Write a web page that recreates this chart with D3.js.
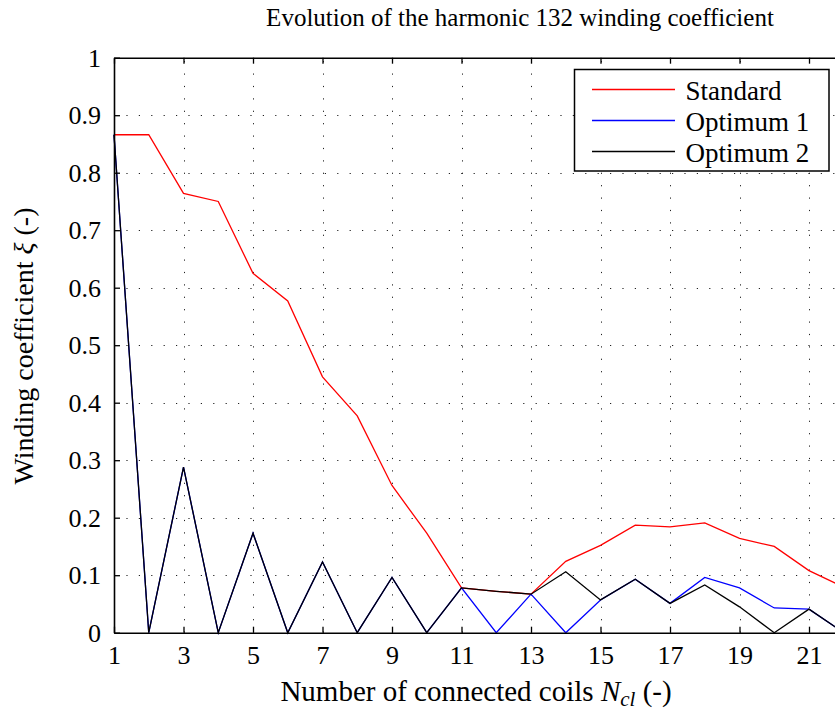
<!DOCTYPE html>
<html>
<head>
<meta charset="utf-8">
<script src="https://cdn.jsdelivr.net/npm/d3@7"></script>
<style>
  html, body { margin: 0; padding: 0; background: #fff; }
  svg { display: block; }
  text { font-family: "Liberation Serif", "DejaVu Serif", serif; fill: #000; }
</style>
</head>
<body>
<svg id="chart" width="835" height="711"></svg>
<script>
// Number of connected coils
const coils = [1, 2, 3, 4, 5, 6, 7, 8, 9, 10, 11, 12, 13, 14, 15, 16, 17, 18, 19, 20, 21, 22];

// Harmonic 132 winding coefficient for each configuration
const standard = [0.866, 0.866, 0.764, 0.750, 0.625, 0.577, 0.445, 0.377, 0.256, 0.173, 0.078, 0.072,
                  0.067, 0.124, 0.152, 0.187, 0.184, 0.191, 0.164, 0.150, 0.108, 0.079];
const optimum1 = [0.866, 0, 0.288, 0, 0.173, 0, 0.123, 0, 0.096, 0, 0.078, 0,
                  0.067, 0, 0.057, 0.093, 0.051, 0.096, 0.078, 0.043, 0.041, 0];
const optimum2 = [0.866, 0, 0.288, 0, 0.173, 0, 0.123, 0, 0.096, 0, 0.078, 0.072,
                  0.067, 0.106, 0.057, 0.093, 0.051, 0.083, 0.045, 0, 0.041, 0];

const xTicks = [1, 3, 5, 7, 9, 11, 13, 15, 17, 19, 21];
const yTicks = [0, 0.1, 0.2, 0.3, 0.4, 0.5, 0.6, 0.7, 0.8, 0.9, 1];

const seriesList = [
  { name: "Standard",  values: standard, color: "#ff0000" },
  { name: "Optimum 1", values: optimum1, color: "#0000ff" },
  { name: "Optimum 2", values: optimum2, color: "#000000" }
];

const svg = d3.select("#chart");
const plot = { left: 114, top: 57.7, right: 843.75, bottom: 632.7 };

const x = d3.scaleLinear().domain([1, 22]).range([plot.left, plot.right]);
const y = d3.scaleLinear().domain([0, 1]).range([plot.bottom, plot.top]);

// dotted grid
const grid = svg.append("g").attr("stroke", "#222").attr("stroke-width", 1)
  .attr("stroke-dasharray", "1.2,11.2");
grid.selectAll("line.gx").data(xTicks.filter(d => d > 1)).join("line")
  .attr("x1", d => Math.round(x(d)) + 0.5).attr("x2", d => Math.round(x(d)) + 0.5)
  .attr("y1", plot.bottom).attr("y2", plot.top);
grid.selectAll("line.gy").data(yTicks.filter(d => d > 0 && d < 1)).join("line")
  .attr("y1", d => Math.round(y(d)) + 0.5).attr("y2", d => Math.round(y(d)) + 0.5)
  .attr("x1", plot.left).attr("x2", plot.right);

// curves
const line = d3.line().x((d, i) => x(coils[i])).y(d => y(d));
svg.append("g").selectAll("path").data(seriesList).join("path")
  .attr("d", s => line(s.values))
  .attr("fill", "none")
  .attr("stroke", s => s.color)
  .attr("stroke-width", 1.3)
  .attr("stroke-linejoin", "miter");

// axes with inward ticks
const tickLen = 6;
const bottomAxis = d3.axisBottom(x).tickValues(xTicks).tickSizeInner(-tickLen).tickSizeOuter(0).tickPadding(13);
const topAxis = d3.axisTop(x).tickValues(xTicks).tickSizeInner(-tickLen).tickSizeOuter(0).tickFormat("");
const leftAxis = d3.axisLeft(y).tickValues(yTicks).tickSizeInner(-tickLen).tickSizeOuter(0).tickPadding(13)
  .tickFormat(d => d === 0 ? "0" : d === 1 ? "1" : d3.format(".1f")(d));

function style(g) {
  g.select(".domain").attr("stroke", "#000").attr("stroke-width", 1.6);
  g.selectAll(".tick line").attr("stroke", "#000").attr("stroke-width", 1.3);
  g.selectAll(".tick text").attr("font-family", "Liberation Serif, serif").attr("font-size", 26).attr("fill", "#000");
}
svg.append("g").attr("transform", `translate(0,${plot.bottom})`).call(bottomAxis).call(style);
svg.append("g").attr("transform", `translate(0,${plot.top})`).call(topAxis).call(style);
svg.append("g").attr("transform", `translate(${plot.left},0)`).call(leftAxis).call(style);

// title
svg.append("text").attr("x", 520).attr("y", 26).attr("text-anchor", "middle")
  .attr("font-size", 25).text("Evolution of the harmonic 132 winding coefficient");

// x label
const xl = svg.append("text").attr("x", 476).attr("y", 701).attr("text-anchor", "middle").attr("font-size", 29);
xl.append("tspan").text("Number of connected coils ");
xl.append("tspan").attr("font-style", "italic").text("N");
xl.append("tspan").attr("font-style", "italic").attr("font-size", 21).attr("dy", 5).text("cl");
xl.append("tspan").attr("dy", -5).text(" (-)");

// y label
const yl = svg.append("text").attr("transform", "translate(33,346) rotate(-90)")
  .attr("text-anchor", "middle").attr("font-size", 28);
yl.append("tspan").text("Winding coefficient ");
yl.append("tspan").attr("font-style", "italic").text("ξ");
yl.append("tspan").text(" (-)");

// legend
const lg = svg.append("g").attr("transform", "translate(574.5,69.5)");
lg.append("rect").attr("width", 254.5).attr("height", 101.5)
  .attr("fill", "#fff").attr("stroke", "#000").attr("stroke-width", 1.5);
const items = lg.selectAll("g.item").data(seriesList).join("g")
  .attr("transform", (d, i) => `translate(0,${20 + i * 31})`);
items.append("line").attr("x1", 17.5).attr("x2", 100.5)
  .attr("stroke", d => d.color).attr("stroke-width", 1.3);
items.append("text").attr("x", 111).attr("y", 10).attr("font-size", 27).text(d => d.name);
</script>
</body>
</html>
